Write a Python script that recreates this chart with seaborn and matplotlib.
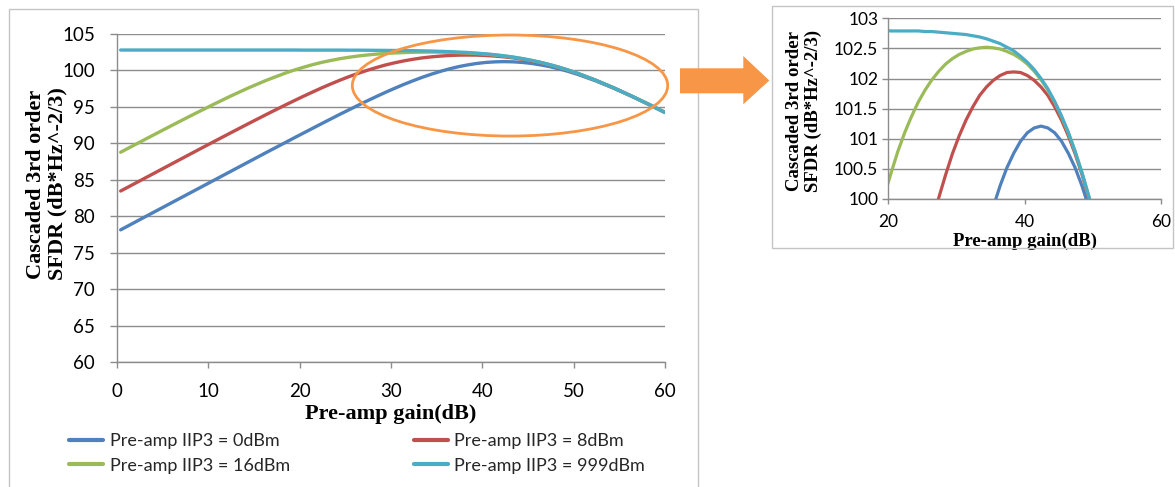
import matplotlib
matplotlib.use("Agg")
import matplotlib.pyplot as plt
import seaborn as sns
import pandas as pd
from matplotlib.patches import Ellipse, Polygon, Rectangle
from matplotlib.lines import Line2D

# ---------------- data ----------------
gain_db = [0.4, 2.4, 4.4, 6.4, 8.4, 10.4, 12.4, 14.4, 16.4, 18.4,
           19.4, 20.4, 21.4, 22.4, 23.4, 24.4, 25.4, 26.4, 27.4, 28.4,
           29.4, 30.4, 31.4, 32.4, 33.4, 34.4, 35.4, 36.4, 37.4, 38.4,
           39.4, 40.4, 41.4, 42.4, 43.4, 44.4, 45.4, 46.4, 47.4, 48.4,
           49.4, 50.4, 52.4, 54.4, 56.4, 58.4, 60.0]

sfdr_iip3_0dbm = [78.13, 79.47, 80.80, 82.13, 83.46, 84.79, 86.12, 87.45, 88.78, 90.09,
                  90.75, 91.40, 92.05, 92.70, 93.34, 93.98, 94.60, 95.22, 95.83, 96.42,
                  97.00, 97.55, 98.08, 98.58, 99.05, 99.48, 99.87, 100.22, 100.52, 100.76,
                  100.96, 101.10, 101.18, 101.21, 101.18, 101.10, 100.96, 100.76, 100.52, 100.22,
                  99.87, 99.48, 98.58, 97.55, 96.42, 95.22, 94.22]

sfdr_iip3_8dbm = [83.46, 84.79, 86.12, 87.45, 88.78, 90.10, 91.41, 92.71, 93.99, 95.24,
                  95.85, 96.45, 97.03, 97.60, 98.14, 98.66, 99.15, 99.60, 100.02, 100.40,
                  100.75, 101.05, 101.31, 101.53, 101.72, 101.86, 101.97, 102.05, 102.10, 102.11,
                  102.10, 102.05, 101.97, 101.86, 101.72, 101.53, 101.31, 101.05, 100.75, 100.41,
                  100.02, 99.60, 98.66, 97.60, 96.45, 95.24, 94.24]

sfdr_iip3_16dbm = [88.78, 90.10, 91.41, 92.71, 93.99, 95.24, 96.46, 97.61, 98.67, 99.62,
                   100.05, 100.43, 100.79, 101.10, 101.37, 101.61, 101.81, 101.98, 102.12, 102.24,
                   102.33, 102.40, 102.45, 102.49, 102.51, 102.52, 102.51, 102.49, 102.45, 102.40,
                   102.33, 102.24, 102.12, 101.98, 101.81, 101.61, 101.37, 101.10, 100.79, 100.44,
                   100.05, 99.62, 98.67, 97.61, 96.46, 95.25, 94.24]

sfdr_iip3_999dbm = [102.80, 102.80, 102.80, 102.80, 102.80, 102.80, 102.80, 102.80, 102.80, 102.80,
                    102.80, 102.79, 102.79, 102.79, 102.79, 102.79, 102.78, 102.78, 102.77, 102.76,
                    102.75, 102.74, 102.73, 102.71, 102.69, 102.66, 102.62, 102.58, 102.52, 102.46,
                    102.37, 102.27, 102.15, 102.00, 101.83, 101.62, 101.38, 101.11, 100.79, 100.44,
                    100.05, 99.62, 98.67, 97.61, 96.46, 95.25, 94.24]

series_labels = ["Pre-amp IIP3 = 0dBm", "Pre-amp IIP3 = 8dBm",
                 "Pre-amp IIP3 = 16dBm", "Pre-amp IIP3 = 999dBm"]
series_colors = ["#4F81BD", "#C0504D", "#9BBB59", "#4BACC6"]

main_xticks = [0, 10, 20, 30, 40, 50, 60]
main_yticks = [60, 65, 70, 75, 80, 85, 90, 95, 100, 105]
inset_xticks = [20, 40, 60]
inset_yticks = [100, 100.5, 101, 101.5, 102, 102.5, 103]
inset_ytick_labels = ["100", "100.5", "101", "101.5", "102", "102.5", "103"]

x_label = "Pre-amp gain(dB)"
y_label = "Cascaded 3rd order\nSFDR (dB*Hz^-2/3)"

# ---------------- build long table ----------------
values = [sfdr_iip3_0dbm, sfdr_iip3_8dbm, sfdr_iip3_16dbm, sfdr_iip3_999dbm]
df = pd.concat([pd.DataFrame({"gain": gain_db, "sfdr": v, "series": lab})
                for v, lab in zip(values, series_labels)], ignore_index=True)
palette = dict(zip(series_labels, series_colors))

# ---------------- style ----------------
sns.set_theme(style="white")
plt.rcParams["font.family"] = ["Lato", "DejaVu Sans"]
GRID = "#8c8c8c"
ORANGE = "#F79646"
SERIF = ["Liberation Serif", "DejaVu Serif"]

W, H = 1175, 487
fig = plt.figure(figsize=(W / 100, H / 100), dpi=100)
fig.patch.set_facecolor("white")


def fx(px):
    return px / W


def fy(py):
    return 1 - py / H


# frames around the two charts
fig.add_artist(Rectangle((fx(9), -0.05), fx(698) - fx(9), fy(9) + 0.05,
                         transform=fig.transFigure, fill=False,
                         edgecolor="#c4c4c4", lw=1.0))
fig.add_artist(Rectangle((fx(772.3), fy(248.3)), fx(1173.3) - fx(772.3),
                         fy(5.7) - fy(248.3), transform=fig.transFigure,
                         fill=False, edgecolor="#c4c4c4", lw=1.0))

# ---------------- main chart ----------------
ax = fig.add_axes([fx(117), fy(362), fx(665) - fx(117), fy(34) - fy(362)])
sns.lineplot(data=df, x="gain", y="sfdr", hue="series", hue_order=series_labels,
             palette=palette, estimator=None, sort=False, lw=2.4, ax=ax,
             legend=False, solid_capstyle="round")
ax.set_xlim(0, 60)
ax.set_ylim(60, 105)
ax.set_xticks(main_xticks)
ax.set_yticks(main_yticks)
ax.grid(axis="y", color=GRID, lw=1.0)
ax.grid(axis="x", visible=False)
ax.set_axisbelow(True)
for s in ("top", "right"):
    ax.spines[s].set_visible(False)
for s in ("left", "bottom"):
    ax.spines[s].set_color(GRID)
    ax.spines[s].set_linewidth(1.0)
ax.tick_params(axis="y", direction="out", length=5.4, width=1.0, color=GRID,
               labelsize=13.5, pad=10.5, labelcolor="black", left=True)
ax.tick_params(axis="x", direction="out", length=4.6, width=1.0, color=GRID,
               labelsize=13.5, pad=10.5, labelcolor="black", bottom=True)
ax.set_xlabel(x_label, family=SERIF, weight="bold", size=16, color="black")
ax.xaxis.set_label_coords(0.5, -0.158)
ax.xaxis.label.set_va("center")
ax.set_ylabel(y_label, family=SERIF, weight="bold", size=16, color="black",
              linespacing=1.15)
ax.yaxis.set_label_coords(-0.128, 0.543)
ax.yaxis.label.set_va("center")

ax.add_patch(Ellipse((43.03, 97.93), 34.53, 13.86, transform=ax.transData,
                     fill=False, edgecolor=ORANGE, lw=2.0, clip_on=False,
                     zorder=6))

# legend (two columns, each a small legend)
handles = [Line2D([0], [0], color=c, lw=3.0) for c in series_colors]
leg_kw = dict(frameon=False, fontsize=13, handlelength=1.9, handletextpad=0.36,
              labelspacing=0.45, borderpad=0, borderaxespad=0, loc="center left")
leg1 = fig.legend([handles[0], handles[2]], [series_labels[0], series_labels[2]],
                  bbox_to_anchor=(fx(69), fy(453.5)), **leg_kw)
leg2 = fig.legend([handles[1], handles[3]], [series_labels[1], series_labels[3]],
                  bbox_to_anchor=(fx(413.5), fy(453.5)), **leg_kw)

# ---------------- arrow ----------------
arrow_px = [(680, 68.3), (743.3, 68.3), (743.3, 56), (769.3, 80.5),
            (743.3, 104.3), (743.3, 93.3), (680, 93.3)]
fig.add_artist(Polygon([(fx(a), fy(b)) for a, b in arrow_px], closed=True,
                       transform=fig.transFigure, facecolor=ORANGE,
                       edgecolor="none"))

# ---------------- inset (zoom) chart ----------------
ax_in = fig.add_axes([fx(888.3), fy(199), fx(1161) - fx(888.3), fy(18.3) - fy(199)])
sns.lineplot(data=df, x="gain", y="sfdr", hue="series", hue_order=series_labels,
             palette=palette, estimator=None, sort=False, lw=2.3, ax=ax_in,
             legend=False, solid_capstyle="round")
ax_in.set_xlim(20, 60)
ax_in.set_ylim(100, 103)
ax_in.set_xticks(inset_xticks)
ax_in.set_yticks(inset_yticks, labels=inset_ytick_labels)
ax_in.grid(axis="y", color=GRID, lw=1.0)
ax_in.grid(axis="x", visible=False)
ax_in.set_axisbelow(True)
for s in ("top", "right"):
    ax_in.spines[s].set_visible(False)
for s in ("left", "bottom"):
    ax_in.spines[s].set_color(GRID)
    ax_in.spines[s].set_linewidth(1.0)
ax_in.tick_params(axis="y", direction="out", length=4.0, width=1.0, color=GRID,
                  labelsize=12.5, pad=3.2, labelcolor="black", left=True)
ax_in.tick_params(axis="x", direction="out", length=3.6, width=1.0, color=GRID,
                  labelsize=12.5, pad=7.5, labelcolor="black", bottom=True)
ax_in.set_xlabel(x_label, family=SERIF, weight="bold", size=13.5, color="black")
ax_in.xaxis.set_label_coords(0.5, -0.235)
ax_in.xaxis.label.set_va("center")
ax_in.set_ylabel(y_label, family=SERIF, weight="bold", size=13.5, color="black",
                 linespacing=1.1)
ax_in.yaxis.set_label_coords(-0.309, 0.487)
ax_in.yaxis.label.set_va("center")

fig.savefig("out.png", dpi=100, facecolor="white")
